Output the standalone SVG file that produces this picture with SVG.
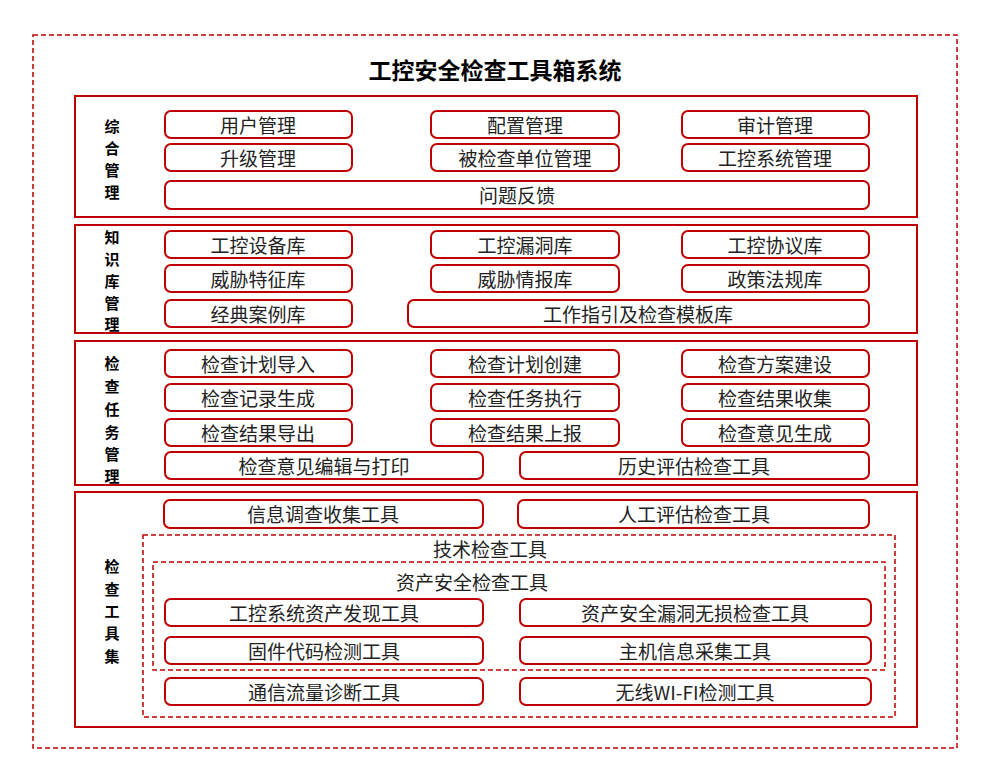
<svg xmlns="http://www.w3.org/2000/svg" width="990" height="767" viewBox="0 0 990 767">
<style>
.b{fill:#fff;stroke:#c00000;stroke-width:2}
.s{fill:none;stroke:#c00000;stroke-width:2}
.d{fill:none;stroke:#c00000;stroke-width:1.5;stroke-dasharray:5 3}
text{font-family:"Noto Sans CJK SC",sans-serif;fill:#222;text-anchor:middle;dominant-baseline:central}
.t{font-size:19px}
.l{font-size:15px;font-weight:bold;fill:#000}
</style>
<rect width="990" height="767" fill="#fff"/>
<rect x="33" y="35" width="924" height="713" class="d"/>
<text x="495" y="69" style="font-size:23px;font-weight:bold;fill:#000">工控安全检查工具箱系统</text>
<g id="sec1">
<rect x="75" y="96" width="842" height="121" class="s"/>
<text class="l" x="112" y="125">综</text><text class="l" x="112" y="147">合</text><text class="l" x="112" y="169">管</text><text class="l" x="112" y="191">理</text>
</g>
<g id="n1"><rect x="165" y="111" width="187" height="27" rx="6" class="b"/><text class="t" x="258" y="124">用户管理</text></g>
<g id="n2"><rect x="431" y="111" width="188" height="27" rx="6" class="b"/><text class="t" x="525" y="124">配置管理</text></g>
<g id="n3"><rect x="682" y="111" width="187" height="27" rx="6" class="b"/><text class="t" x="775" y="124">审计管理</text></g>
<g id="n4"><rect x="165" y="144" width="187" height="27" rx="6" class="b"/><text class="t" x="258" y="157">升级管理</text></g>
<g id="n5"><rect x="431" y="144" width="188" height="27" rx="6" class="b"/><text class="t" x="525" y="157">被检查单位管理</text></g>
<g id="n6"><rect x="682" y="144" width="187" height="27" rx="6" class="b"/><text class="t" x="775" y="157">工控系统管理</text></g>
<g id="n7"><rect x="165" y="181" width="704" height="28" rx="6" class="b"/><text class="t" x="517" y="194">问题反馈</text></g>
<g id="sec2">
<rect x="75" y="225" width="842" height="108" class="s"/>
<text class="l" x="112" y="236">知</text><text class="l" x="112" y="258">识</text><text class="l" x="112" y="280">库</text><text class="l" x="112" y="302">管</text><text class="l" x="112" y="323">理</text>
</g>
<g id="k1"><rect x="165" y="231" width="187" height="27" rx="6" class="b"/><text class="t" x="258" y="244">工控设备库</text></g>
<g id="k2"><rect x="431" y="231" width="188" height="27" rx="6" class="b"/><text class="t" x="525" y="244">工控漏洞库</text></g>
<g id="k3"><rect x="682" y="231" width="187" height="27" rx="6" class="b"/><text class="t" x="775" y="244">工控协议库</text></g>
<g id="k4"><rect x="165" y="265" width="187" height="27" rx="6" class="b"/><text class="t" x="258" y="278">威胁特征库</text></g>
<g id="k5"><rect x="431" y="265" width="188" height="27" rx="6" class="b"/><text class="t" x="525" y="278">威胁情报库</text></g>
<g id="k6"><rect x="682" y="265" width="187" height="27" rx="6" class="b"/><text class="t" x="775" y="278">政策法规库</text></g>
<g id="k7"><rect x="165" y="300" width="187" height="27" rx="6" class="b"/><text class="t" x="258" y="313">经典案例库</text></g>
<g id="k8"><rect x="408" y="300" width="461" height="27" rx="6" class="b"/><text class="t" x="638" y="313">工作指引及检查模板库</text></g>
<g id="sec3">
<rect x="75" y="341" width="842" height="144" class="s"/>
<text class="l" x="112" y="362">检</text><text class="l" x="112" y="385">查</text><text class="l" x="112" y="408">任</text><text class="l" x="112" y="431">务</text><text class="l" x="112" y="453">管</text><text class="l" x="112" y="475">理</text>
</g>
<g id="m1"><rect x="165" y="350" width="187" height="27" rx="6" class="b"/><text class="t" x="258" y="363">检查计划导入</text></g>
<g id="m2"><rect x="431" y="350" width="188" height="27" rx="6" class="b"/><text class="t" x="525" y="363">检查计划创建</text></g>
<g id="m3"><rect x="682" y="350" width="187" height="27" rx="6" class="b"/><text class="t" x="775" y="363">检查方案建设</text></g>
<g id="m4"><rect x="165" y="384" width="187" height="27" rx="6" class="b"/><text class="t" x="258" y="397">检查记录生成</text></g>
<g id="m5"><rect x="431" y="384" width="188" height="27" rx="6" class="b"/><text class="t" x="525" y="397">检查任务执行</text></g>
<g id="m6"><rect x="682" y="384" width="187" height="27" rx="6" class="b"/><text class="t" x="775" y="397">检查结果收集</text></g>
<g id="m7"><rect x="165" y="419" width="187" height="27" rx="6" class="b"/><text class="t" x="258" y="432">检查结果导出</text></g>
<g id="m8"><rect x="431" y="419" width="188" height="27" rx="6" class="b"/><text class="t" x="525" y="432">检查结果上报</text></g>
<g id="m9"><rect x="682" y="419" width="187" height="27" rx="6" class="b"/><text class="t" x="775" y="432">检查意见生成</text></g>
<g id="m10"><rect x="165" y="452" width="318" height="27" rx="6" class="b"/><text class="t" x="324" y="465">检查意见编辑与打印</text></g>
<g id="m11"><rect x="520" y="452" width="349" height="27" rx="6" class="b"/><text class="t" x="694" y="465">历史评估检查工具</text></g>
<g id="sec4">
<rect x="75" y="492" width="842" height="235" class="s"/>
<text class="l" x="112" y="565">检</text><text class="l" x="112" y="588">查</text><text class="l" x="112" y="610">工</text><text class="l" x="112" y="632">具</text><text class="l" x="112" y="655">集</text>
</g>
<g id="t1"><rect x="164" y="500" width="319" height="28" rx="6" class="b"/><text class="t" x="323" y="513">信息调查收集工具</text></g>
<g id="t2"><rect x="518" y="500" width="351" height="28" rx="6" class="b"/><text class="t" x="694" y="513">人工评估检查工具</text></g>
<g id="tech">
<rect x="143" y="535" width="752" height="182" class="d"/>
<text class="t" x="490" y="548">技术检查工具</text>
</g>
<g id="asset">
<rect x="153" y="562" width="732" height="108" class="d"/>
<text class="t" x="472" y="581">资产安全检查工具</text>
</g>
<g id="a1"><rect x="165" y="599" width="318" height="27" rx="6" class="b"/><text class="t" x="324" y="612">工控系统资产发现工具</text></g>
<g id="a2"><rect x="520" y="599" width="351" height="27" rx="6" class="b"/><text class="t" x="695" y="612">资产安全漏洞无损检查工具</text></g>
<g id="a3"><rect x="165" y="637" width="318" height="27" rx="6" class="b"/><text class="t" x="324" y="650">固件代码检测工具</text></g>
<g id="a4"><rect x="520" y="637" width="351" height="27" rx="6" class="b"/><text class="t" x="695" y="650">主机信息采集工具</text></g>
<g id="a5"><rect x="165" y="678" width="318" height="27" rx="6" class="b"/><text class="t" x="324" y="691">通信流量诊断工具</text></g>
<g id="a6"><rect x="520" y="678" width="351" height="27" rx="6" class="b"/><text class="t" x="695" y="691">无线WI-FI检测工具</text></g>
<g id="connectors"></g>
</svg>
